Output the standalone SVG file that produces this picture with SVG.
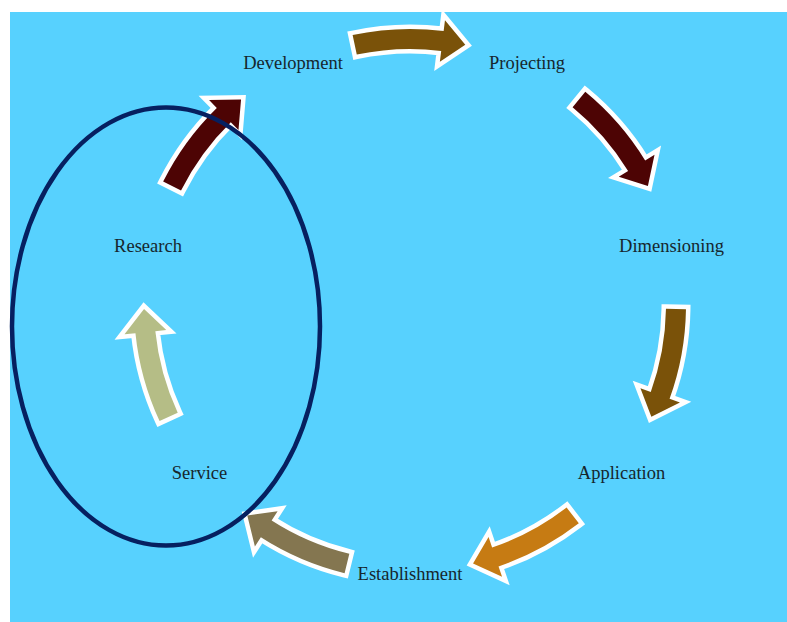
<svg xmlns="http://www.w3.org/2000/svg" width="787" height="622" viewBox="0 0 787 622">
  <style>
    .lbl { font-family: "Liberation Serif", "DejaVu Serif", serif; font-size: 18.5px; fill: #16262d; text-anchor: middle; }
    .arr { stroke: #ffffff; stroke-width: 9; stroke-linejoin: miter; stroke-miterlimit: 10; paint-order: stroke fill; }
  </style>
  <defs>
    <path id="cyc" d="M-53.23,-250.41 L-57.38,-269.97 A276,276 0 0 1 33.64,-273.94 L34.98,-284.86 L55.30,-260.19 L29.86,-243.17 L31.20,-254.09 A256,256 0 0 0 -53.23,-250.41 Z"/>
  </defs>
  <rect x="10" y="12" width="777" height="610" fill="#57D1FE"/>
  <g id="connectors">
    <use href="#cyc" class="arr" fill="#7A5209" transform="translate(410,305) rotate(0)"/>
    <use href="#cyc" class="arr" fill="#4D0404" transform="translate(410,305) rotate(51.43)"/>
    <use href="#cyc" class="arr" fill="#7A5209" transform="translate(410,305) rotate(102.86)"/>
    <use href="#cyc" class="arr" fill="#C67B13" transform="translate(410,305) rotate(154.29)"/>
    <use href="#cyc" class="arr" fill="#847650" transform="translate(410,305) rotate(205.71)"/>
    <use href="#cyc" class="arr" fill="#B5BD86" transform="translate(410,305) rotate(257.14)"/>
    <use href="#cyc" class="arr" fill="#4D0404" transform="translate(410,305) rotate(308.57)"/>
  </g>
  <g id="group-ellipse">
    <ellipse cx="166" cy="326.5" rx="154" ry="219" fill="none" stroke="#062060" stroke-width="4.5"/>
  </g>
  <g id="node-development"><text class="lbl" x="293" y="69">Development</text></g>
  <g id="node-projecting"><text class="lbl" x="527" y="69">Projecting</text></g>
  <g id="node-dimensioning"><text class="lbl" x="671.5" y="251.5">Dimensioning</text></g>
  <g id="node-application"><text class="lbl" x="621.5" y="478.5">Application</text></g>
  <g id="node-establishment"><text class="lbl" x="410" y="579.5">Establishment</text></g>
  <g id="node-service"><text class="lbl" x="199.5" y="478.5">Service</text></g>
  <g id="node-research"><text class="lbl" x="148" y="251.5">Research</text></g>
</svg>
